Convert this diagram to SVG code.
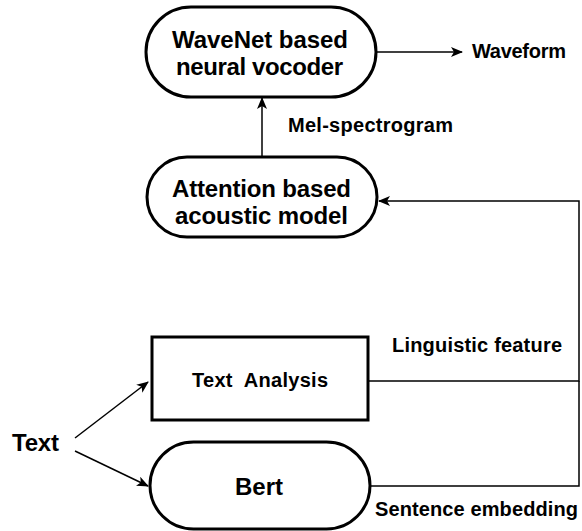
<svg xmlns="http://www.w3.org/2000/svg" width="582" height="531" viewBox="0 0 582 531">
<style>
.node{fill:#fff;stroke:#000;stroke-width:3}
.big{font-family:"Liberation Sans",Arial,sans-serif;font-weight:bold;font-size:24px;fill:#000}
.lbl{font-family:"Liberation Sans",Arial,sans-serif;font-weight:bold;font-size:20px;fill:#000}
.conn{fill:none;stroke:#000;stroke-width:1.5}
</style>
<defs>
<marker id="ah" markerWidth="12" markerHeight="10" refX="11" refY="5" orient="auto" markerUnits="userSpaceOnUse">
<path d="M0,0 L12,5 L0,10 L3,5 Z" fill="#000"/>
</marker>
</defs>
<g id="connectors">
<path class="conn" d="M376,52 L462,52" marker-end="url(#ah)"/>
<path class="conn" d="M262,157 L262,98" marker-end="url(#ah)"/>
<path class="conn" d="M368,381 L579,381 L579,201 L379,201" marker-end="url(#ah)"/>
<path class="conn" d="M370,486 L579,486 L579,381"/>
<path class="conn" d="M75,438 L148,382" marker-end="url(#ah)"/>
<path class="conn" d="M75,451 L148,486" marker-end="url(#ah)"/>
</g>
<g id="wavenet">
<rect class="node" x="146" y="7" width="230" height="90" rx="45"/>
<text class="big" x="172" y="48" textLength="176">WaveNet based</text>
<text class="big" x="176" y="75" textLength="167">neural vocoder</text>
</g>
<g id="waveform-label"><text class="lbl" x="472" y="58" textLength="94">Waveform</text></g>
<g id="mel-label"><text class="lbl" x="288" y="132" textLength="165">Mel-spectrogram</text></g>
<g id="acoustic">
<rect class="node" x="147" y="157" width="230" height="80" rx="40"/>
<text class="big" x="172" y="197" textLength="179">Attention based</text>
<text class="big" x="175" y="224" textLength="173">acoustic model</text>
</g>
<g id="linguistic-label"><text class="lbl" x="392" y="352" textLength="170">Linguistic feature</text></g>
<g id="text-analysis">
<rect class="node" x="152" y="337" width="216" height="83"/>
<text class="lbl" x="192" y="387" textLength="136" style="white-space:pre">Text  Analysis</text>
</g>
<g id="bert">
<rect class="node" x="150" y="442" width="220" height="87" rx="43.5"/>
<text class="big" x="235" y="495" textLength="48">Bert</text>
</g>
<g id="text-input"><text class="big" x="12" y="451" textLength="47">Text</text></g>
<g id="sentence-label"><text class="lbl" x="375" y="516" textLength="203">Sentence embedding</text></g>
</svg>
